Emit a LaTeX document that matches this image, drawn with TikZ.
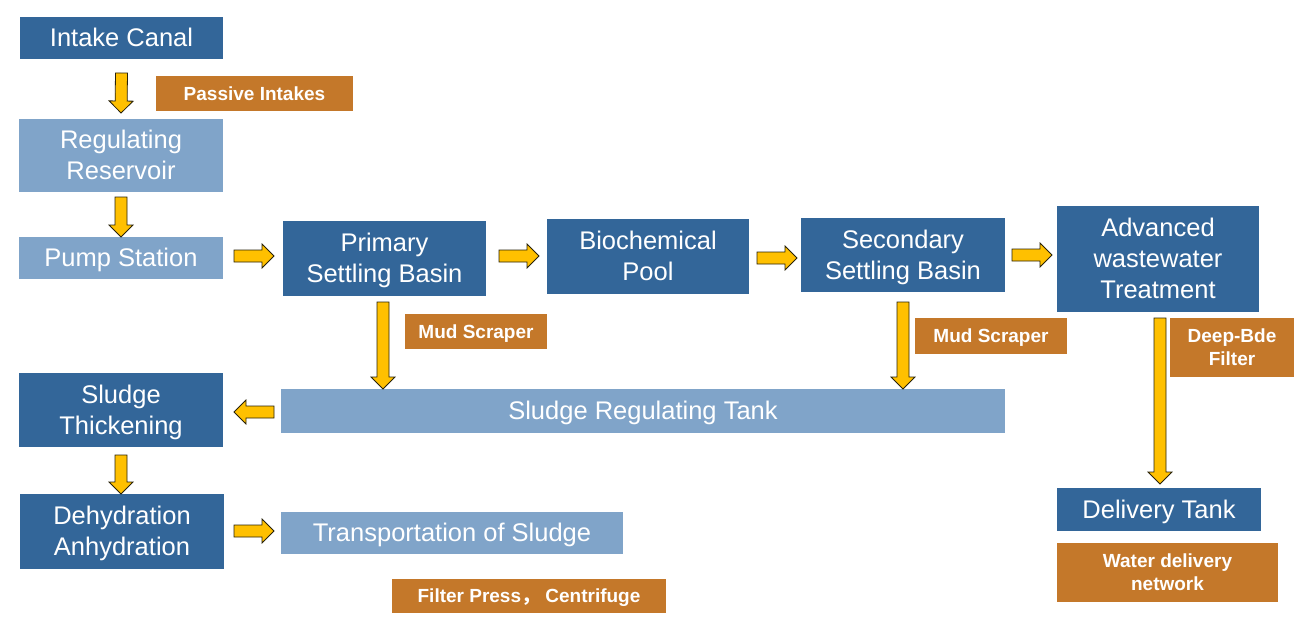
\documentclass[tikz,border=0pt]{standalone}
\usepackage{fontspec}
\setmainfont{Liberation Sans}
\newfontfamily\cjkfont{Noto Sans CJK SC}
\usetikzlibrary{calc}
\definecolor{darkbox}{RGB}{51,102,153}
\definecolor{lightbox}{RGB}{128,164,201}
\definecolor{orangebox}{RGB}{196,120,42}
\definecolor{arrowfill}{RGB}{255,192,0}
\definecolor{arrowline}{RGB}{40,34,10}
\newcommand\ls{\rule[-0.212em]{0pt}{1.117em}}
\tikzset{
  box/.style={inner sep=0pt, outer sep=0pt, text=white, align=center,
    font=\fontsize{25.5}{31}\selectfont},
  darkstep/.style={box, fill=darkbox},
  lightstep/.style={box, fill=lightbox},
  tag/.style={inner sep=0pt, outer sep=0pt, text=white, align=center, fill=orangebox,
    font=\fontsize{19}{23}\selectfont\bfseries},
  flowarrowstyle/.style={fill=arrowfill, draw=arrowline, line width=0.8pt, line join=miter},
}
% block arrow from coordinate #1 to coordinate #2
\newcommand\flowarrow[2]{%
  \coordinate (fa-h) at ($(#2)!12pt!(#1)$);
  \draw[flowarrowstyle] ($(#1)!6pt!90:(#2)$) -- ($(fa-h)!6pt!90:(#2)$)
    -- ($(fa-h)!12pt!90:(#2)$) -- (#2) -- ($(fa-h)!12pt!-90:(#2)$)
    -- ($(fa-h)!6pt!-90:(#2)$) -- ($(#1)!6pt!-90:(#2)$) -- cycle;}
\begin{document}
\begin{tikzpicture}[x=1pt,y=-1pt]
\useasboundingbox[fill=white] (0,0) rectangle (1307,619);

% process boxes
\node[darkstep, minimum width=203pt, minimum height=42pt] (intake) at (121.5,38) {\ls Intake Canal};
\node[lightstep, minimum width=204pt, minimum height=73pt] (reservoir) at (121,155.5) {\ls Regulating\\\ls Reservoir};
\node[lightstep, minimum width=204pt, minimum height=42pt] (pump) at (121,258) {\ls Pump Station};
\node[darkstep, minimum width=203pt, minimum height=75pt] (primary) at (384.5,258.5) {\ls Primary\\\ls Settling Basin};
\node[darkstep, minimum width=202pt, minimum height=75pt] (bio) at (648,256.5) {\ls Biochemical\\\ls Pool};
\node[darkstep, minimum width=204pt, minimum height=74pt] (secondary) at (903,255) {\ls Secondary\\\ls Settling Basin};
\node[darkstep, minimum width=202pt, minimum height=106pt] (advanced) at (1158,259) {\ls Advanced\\\ls wastewater\\\ls Treatment};
\node[darkstep, minimum width=204pt, minimum height=43pt] (delivery) at (1159,509.5) {\ls Delivery Tank};
\node[darkstep, minimum width=204pt, minimum height=74pt] (thickening) at (121,410) {\ls Sludge\\\ls Thickening};
\node[darkstep, minimum width=204pt, minimum height=75pt] (dehydration) at (122,531.5) {\ls Dehydration\\\ls Anhydration};
\node[lightstep, minimum width=724pt, minimum height=44pt] (tank) at (643,411) {\ls Sludge Regulating Tank};
\node[lightstep, minimum width=342pt, minimum height=42pt] (transport) at (452,533) {\ls Transportation of Sludge};

% equipment tags
\node[tag, minimum width=197pt, minimum height=35pt] (passive) at (254.5,93.5) {\ls Passive Intakes};
\node[tag, minimum width=142pt, minimum height=35pt] (mud1) at (476,331.5) {\ls Mud Scraper};
\node[tag, minimum width=152pt, minimum height=36pt] (mud2) at (991,336) {\ls Mud Scraper};
\node[tag, minimum width=124pt, minimum height=59pt] (deep) at (1232,347.5) {\ls Deep-Bde\\\ls Filter};
\node[tag, minimum width=221pt, minimum height=59pt] (water) at (1167.5,572.5) {\ls Water delivery\\\ls network};
\node[tag, minimum width=274pt, minimum height=34pt] (filter) at (529,596) {\ls Filter Press{\cjkfont ，} Centrifuge};

% arrow end points
\coordinate (a1s) at ($(intake.south)+(0,14)$);
\coordinate (a1e) at ($(reservoir.north)+(0,-6)$);
\coordinate (a2s) at ($(reservoir.south)+(0,5)$);
\coordinate (a2e) at (pump.north);
\coordinate (a3s) at ($(pump.east)+(11,-2)$);
\coordinate (a3e) at ($(primary.west)+(-9,-2.5)$);
\coordinate (a4s) at ($(primary.east)+(13,-2.5)$);
\coordinate (a4e) at ($(bio.west)+(-8,-0.5)$);
\coordinate (a5s) at ($(bio.east)+(8,1.5)$);
\coordinate (a5e) at ($(secondary.west)+(-4,3)$);
\coordinate (a6s) at ($(secondary.east)+(7,0)$);
\coordinate (a6e) at ($(advanced.west)+(-5,-4)$);
\coordinate (a7s) at ($(primary.south)+(-1.5,6)$);
\coordinate (a7e) at (a7s |- tank.north);
\coordinate (a8s) at ($(secondary.south)+(0,10)$);
\coordinate (a8e) at (a8s |- tank.north);
\coordinate (a9s) at ($(advanced.south)+(2,6)$);
\coordinate (a9e) at ($(a9s |- delivery.north)+(0,-4)$);
\coordinate (a10s) at ($(tank.west)+(-7,1)$);
\coordinate (a10e) at ($(thickening.east)+(11,2)$);
\coordinate (a11s) at ($(thickening.south)+(0,8)$);
\coordinate (a11e) at ($(dehydration.north)+(-1,0)$);
\coordinate (a12s) at ($(dehydration.east)+(10,-0.5)$);
\coordinate (a12e) at ($(transport.west)+(-7,-2)$);

% flow arrows
\flowarrow{a1s}{a1e}
\flowarrow{a2s}{a2e}
\flowarrow{a3s}{a3e}
\flowarrow{a4s}{a4e}
\flowarrow{a5s}{a5e}
\flowarrow{a6s}{a6e}
\flowarrow{a7s}{a7e}
\flowarrow{a8s}{a8e}
\flowarrow{a9s}{a9e}
\flowarrow{a10s}{a10e}
\flowarrow{a11s}{a11e}
\flowarrow{a12s}{a12e}
\end{tikzpicture}
\end{document}
